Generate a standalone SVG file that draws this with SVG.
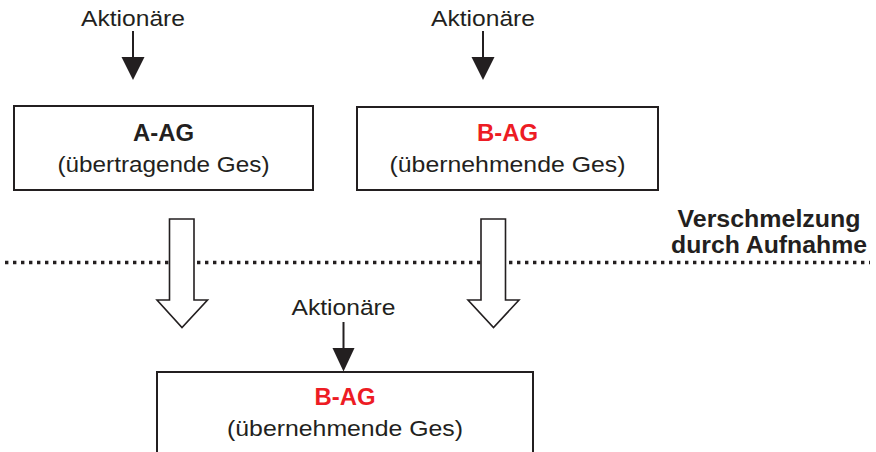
<svg xmlns="http://www.w3.org/2000/svg" width="876" height="452" viewBox="0 0 876 452">
<style>
  text { font-family: "Liberation Sans", Arial, sans-serif; fill: #231f20; text-anchor: middle; }
  .lbl { font-size: 22.5px; }
  .bold { font-size: 23px; font-weight: bold; }
  .red { fill: #ed1c24; }
  .box { fill: #ffffff; stroke: #231f20; stroke-width: 2; }
  .stem { stroke: #231f20; stroke-width: 2; fill: none; }
  .head { fill: #231f20; stroke: none; }
  .hollow { fill: #ffffff; stroke: #231f20; stroke-width: 1.6; stroke-linejoin: miter; }
  .dots { stroke: #231f20; stroke-width: 3.4; stroke-dasharray: 3.4 4.6; fill: none; }
</style>
<rect width="876" height="452" fill="#ffffff"/>

<g id="connectors">
  <line class="dots" x1="5" y1="262.5" x2="870" y2="262.5"/>
  <g id="arrow-a">
    <line class="stem" x1="133" y1="31" x2="133" y2="60"/>
    <polygon class="head" points="121.5,57 144.5,57 133,80"/>
  </g>
  <g id="arrow-b">
    <line class="stem" x1="483" y1="31" x2="483" y2="60"/>
    <polygon class="head" points="471.5,57 494.5,57 483,80"/>
  </g>
  <g id="arrow-c">
    <line class="stem" x1="343.5" y1="322" x2="343.5" y2="351"/>
    <polygon class="head" points="332.5,348 354.5,348 343.5,371.5"/>
  </g>
  <polygon id="hollow-left" class="hollow" points="169.5,219 194,219 194,300 207.5,300 182,327.5 157,300 169.5,300"/>
  <polygon id="hollow-right" class="hollow" points="481,219 505.5,219 505.5,300 519,300 493.5,327.5 468,300 481,300"/>
</g>

<g id="label-aktionaere-a"><text class="lbl" x="133" y="26" textLength="104" lengthAdjust="spacingAndGlyphs">Aktionäre</text></g>
<g id="label-aktionaere-b"><text class="lbl" x="483" y="26" textLength="104" lengthAdjust="spacingAndGlyphs">Aktionäre</text></g>
<g id="label-aktionaere-c"><text class="lbl" x="343.5" y="315" textLength="104" lengthAdjust="spacingAndGlyphs">Aktionäre</text></g>

<g id="node-a-ag">
  <rect class="box" x="14" y="106" width="299" height="84"/>
  <text class="bold" x="163.5" y="140.5" textLength="61" lengthAdjust="spacingAndGlyphs">A-AG</text>
  <text class="lbl" x="163.5" y="172" textLength="212" lengthAdjust="spacingAndGlyphs">(übertragende Ges)</text>
</g>

<g id="node-b-ag">
  <rect class="box" x="357" y="107" width="301" height="83"/>
  <text class="bold red" x="507.5" y="140.5" textLength="61" lengthAdjust="spacingAndGlyphs">B-AG</text>
  <text class="lbl" x="507.5" y="172" textLength="236" lengthAdjust="spacingAndGlyphs">(übernehmende Ges)</text>
</g>

<g id="node-b-ag-result">
  <rect class="box" x="157" y="372" width="376" height="100"/>
  <text class="bold red" x="345" y="404.5" textLength="61" lengthAdjust="spacingAndGlyphs">B-AG</text>
  <text class="lbl" x="345" y="435.5" textLength="236" lengthAdjust="spacingAndGlyphs">(übernehmende Ges)</text>
</g>

<g id="label-verschmelzung">
  <text class="bold" x="769" y="226.5" textLength="183" lengthAdjust="spacingAndGlyphs">Verschmelzung</text>
  <text class="bold" x="769" y="253" textLength="196" lengthAdjust="spacingAndGlyphs">durch Aufnahme</text>
</g>
</svg>
